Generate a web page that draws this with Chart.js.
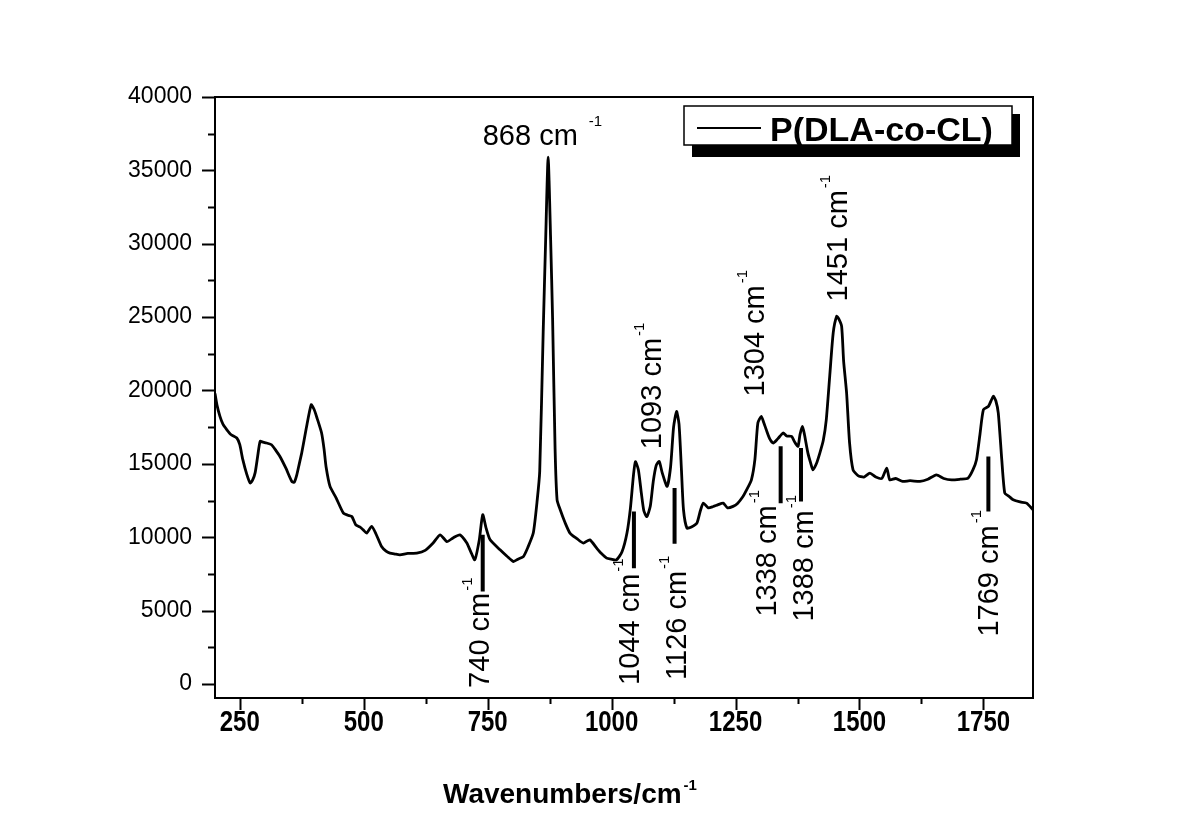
<!DOCTYPE html>
<html>
<head>
<meta charset="utf-8">
<script src="https://cdn.jsdelivr.net/npm/chart.js@4.4.0/dist/chart.umd.min.js"></script>
<style>
  html, body { margin: 0; padding: 0; background: #fff; }
  #wrap { width: 1200px; height: 838px; }
</style>
</head>
<body>
<div id="wrap"><canvas id="ramanChart" width="1200" height="838"></canvas></div>
<script>
// Raman spectrum of P(DLA-co-CL)
const wavenumbers = [
  200, 204, 210, 216, 224, 232, 244, 250, 256, 264, 271, 276, 281, 286, 291, 297, 304, 314, 323, 331,
  343, 355, 360, 365, 370, 375, 384, 394, 400, 406, 415, 420, 424, 432, 444, 459, 468, 476, 484, 492,
  499, 506, 516, 525, 536, 545, 553, 563, 573, 589, 607, 624, 640, 654, 668, 680, 694, 708, 716, 724,
  733, 740, 747, 755, 775, 789, 802, 811, 822, 831, 842, 850, 855, 862, 867, 872, 877, 881, 886, 890,
  896, 906, 916, 930, 943, 956, 970, 979, 990, 999, 1010, 1021, 1031, 1038, 1044, 1048, 1054, 1060, 1065, 1071,
  1078, 1084, 1090, 1096, 1102, 1112, 1119, 1125, 1131, 1136, 1141, 1145, 1152, 1161, 1172, 1179, 1185, 1195, 1205, 1214,
  1225, 1234, 1245, 1254, 1265, 1272, 1282, 1289, 1295, 1302, 1307, 1312, 1319, 1326, 1335, 1346, 1353, 1363, 1369, 1376,
  1380, 1385, 1389, 1396, 1402, 1406, 1413, 1420, 1427, 1433, 1440, 1447, 1454, 1458, 1464, 1468, 1474, 1480, 1487, 1497,
  1509, 1521, 1533, 1545, 1555, 1561, 1573, 1587, 1602, 1622, 1638, 1655, 1670, 1686, 1703, 1719, 1729, 1736, 1743, 1750,
  1760, 1770, 1775, 1780, 1787, 1793, 1801, 1810, 1824, 1837, 1850
];
const intensities = [
  19800, 19000, 18230, 17700, 17320, 17000, 16760, 16300, 15300, 14300, 13690, 13900, 14400, 15500, 16530, 16480, 16420, 16300, 15900, 15500,
  14700, 13800, 13750, 14250, 15000, 15750, 17400, 19030, 18700, 18100, 17100, 16000, 14800, 13460, 12700, 11640, 11500, 11410, 10840, 10700,
  10500, 10280, 10730, 10200, 9360, 9050, 8910, 8850, 8800, 8900, 8910, 9100, 9600, 10160, 9700, 9950, 10160, 9600, 9000, 8460,
  9800, 11530, 10600, 9820, 9140, 8700, 8340, 8500, 8680, 9300, 10280, 12550, 14500, 24000, 30300, 35900, 30300, 24830, 16000, 12550,
  11900, 11000, 10280, 9900, 9600, 9820, 9250, 8900, 8570, 8500, 8460, 9000, 10280, 12000, 14200, 15150, 14600, 13000, 11800, 11400,
  12100, 13800, 14900, 15160, 14400, 13460, 14800, 17500, 18570, 17700, 14500, 11870, 10620, 10700, 10960, 11800, 12320, 12000, 12090, 12200,
  12320, 12000, 12100, 12300, 12770, 13200, 13910, 15280, 17780, 18230, 17800, 17320, 16700, 16420, 16700, 17100, 16900, 16870, 16500, 16190,
  17000, 17550, 17000, 15730, 15000, 14590, 15000, 15730, 16600, 18000, 21000, 23920, 25050, 24900, 24370, 22000, 19830, 16420, 14590, 14200,
  14100, 14370, 14100, 14000, 14710, 13910, 14000, 13800, 13850, 13800, 13950, 14250, 14000, 13900, 13950, 14030, 14600, 15280, 17000, 18690,
  18910, 19600, 19300, 18460, 15280, 13010, 12800, 12550, 12400, 12320, 11870
];

const xTickValues = [250, 500, 750, 1000, 1250, 1500, 1750];
const yTickValues = [0, 5000, 10000, 15000, 20000, 25000, 30000, 35000, 40000];

// vertical marker bars under the assigned bands
const markerWavenumbers = [740, 1045, 1127, 1341, 1382, 1760];
const markerTops = [10160, 11750, 13350, 16190, 16080, 15500];
const markerBottoms = [6300, 7890, 9550, 12320, 12430, 11750];

// band labels (rotated ones read bottom to top)
const bandLabels = ['740 cm', '1044 cm', '1126 cm', '1338 cm', '1388 cm', '1769 cm', '1093 cm', '1304 cm', '1451 cm'];
const labelAnchors = [
  { x: 736, y: -270 }, { x: 1040, y: -70 }, { x: 1134, y: 270 },
  { x: 1315, y: 4590 }, { x: 1390, y: 4250 }, { x: 1763, y: 3230 },
  { x: 1083, y: 16000 }, { x: 1291, y: 19590 }, { x: 1458, y: 26070 }
];
const topLabel = '868 cm';
const topAnchor = { x: 740, y: 36760 };

const seriesName = 'P(DLA-co-CL)';
const axisTitle = 'Wavenumbers/cm';

const LABEL_FONT = '29px "Liberation Sans", Arial, sans-serif';
const SUP_FONT = '15px "Liberation Sans", Arial, sans-serif';

function drawRotatedLabel(ctx, text, px, py) {
  ctx.save();
  ctx.translate(px, py);
  ctx.rotate(-Math.PI / 2);
  ctx.font = LABEL_FONT;
  ctx.textAlign = 'left';
  ctx.textBaseline = 'middle';
  ctx.fillText(text, 0, 0);
  const w = ctx.measureText(text).width;
  ctx.font = SUP_FONT;
  ctx.fillText('-1', w + 2, -13);
  ctx.restore();
}

const spectrumDecor = {
  id: 'spectrumDecor',
  afterDatasetsDraw(chart) {
    const { ctx, chartArea: a, scales: { x, y } } = chart;
    ctx.save();
    ctx.fillStyle = '#000';
    ctx.strokeStyle = '#000';

    // frame
    ctx.lineWidth = 2;
    ctx.strokeRect(a.left, a.top, a.right - a.left, a.bottom - a.top);

    // x ticks, major + minor, outward
    ctx.beginPath();
    xTickValues.forEach(v => {
      const px = Math.round(x.getPixelForValue(v)) + 0.5;
      ctx.moveTo(px, a.bottom); ctx.lineTo(px, a.bottom + 12);
      [v - 125, v + 125].forEach(m => {
        if (m > x.min && m < x.max) {
          const mp = Math.round(x.getPixelForValue(m)) + 0.5;
          ctx.moveTo(mp, a.bottom); ctx.lineTo(mp, a.bottom + 6);
        }
      });
    });
    // y ticks
    yTickValues.forEach(v => {
      const py = Math.round(y.getPixelForValue(v)) + 0.5;
      ctx.moveTo(a.left, py); ctx.lineTo(a.left - 13, py);
      const m = v + 2500;
      if (m < y.max) {
        const mp = Math.round(y.getPixelForValue(m)) + 0.5;
        ctx.moveTo(a.left, mp); ctx.lineTo(a.left - 7, mp);
      }
    });
    ctx.stroke();

    // x tick labels: bold, horizontally condensed like the original
    ctx.font = 'bold 30px "Liberation Sans", Arial, sans-serif';
    ctx.textAlign = 'center';
    ctx.textBaseline = 'middle';
    xTickValues.forEach(v => {
      ctx.save();
      ctx.translate(x.getPixelForValue(v), a.bottom + 25);
      ctx.scale(0.8, 1);
      ctx.fillText(String(v), 0, 0);
      ctx.restore();
    });

    // marker bars
    ctx.lineWidth = 4;
    ctx.beginPath();
    markerWavenumbers.forEach((w, i) => {
      const px = x.getPixelForValue(w);
      ctx.moveTo(px, y.getPixelForValue(markerTops[i]));
      ctx.lineTo(px, y.getPixelForValue(markerBottoms[i]));
    });
    ctx.stroke();

    // rotated band labels
    bandLabels.forEach((t, i) => {
      drawRotatedLabel(ctx, t, x.getPixelForValue(labelAnchors[i].x), y.getPixelForValue(labelAnchors[i].y));
    });

    // horizontal label over the 868 band
    ctx.font = LABEL_FONT;
    ctx.textAlign = 'left';
    ctx.textBaseline = 'alphabetic';
    const tx = x.getPixelForValue(topAnchor.x), ty = y.getPixelForValue(topAnchor.y);
    ctx.fillText(topLabel, tx, ty);
    const tw = ctx.measureText(topLabel + ' ').width;
    ctx.font = SUP_FONT;
    ctx.fillText('-1', tx + tw + 3, ty - 19);

    // legend box with drop shadow
    const lx = a.right - 349, ly = a.top + 9, lw = 328, lh = 39;
    ctx.fillRect(lx + 8, ly + 8, lw, lh + 4);
    ctx.fillStyle = '#fff';
    ctx.fillRect(lx, ly, lw, lh);
    ctx.lineWidth = 1.5;
    ctx.strokeRect(lx, ly, lw, lh);
    ctx.fillStyle = '#000';
    ctx.lineWidth = 2;
    ctx.beginPath();
    ctx.moveTo(lx + 13, ly + 22); ctx.lineTo(lx + 77, ly + 22);
    ctx.stroke();
    ctx.font = 'bold 34px "Liberation Sans", Arial, sans-serif';
    ctx.fillText(seriesName, lx + 86, ly + 35);

    // x axis title
    ctx.font = 'bold 28px "Liberation Sans", Arial, sans-serif';
    ctx.fillText(axisTitle, 443, 803);
    const aw = ctx.measureText(axisTitle).width;
    ctx.font = 'bold 15px "Liberation Sans", Arial, sans-serif';
    ctx.fillText('-1', 443 + aw + 2, 790);

    ctx.restore();
  }
};

new Chart(document.getElementById('ramanChart'), {
  type: 'line',
  data: {
    labels: wavenumbers,
    datasets: [{
      label: seriesName,
      data: wavenumbers.map((w, i) => ({ x: w, y: intensities[i] })),
      borderColor: '#000',
      borderWidth: 2.8,
      pointRadius: 0,
      tension: 0.2,
      fill: false
    }]
  },
  options: {
    responsive: false,
    animation: false,
    devicePixelRatio: 1,
    layout: { padding: { left: 0, top: 97, right: 167, bottom: 0 } },
    plugins: { legend: { display: false }, tooltip: { enabled: false } },
    scales: {
      x: {
        type: 'linear',
        min: 200,
        max: 1850,
        afterBuildTicks: s => { s.ticks = xTickValues.map(v => ({ value: v })); },
        afterFit: s => { s.height = 140; },
        grid: { display: false, drawTicks: false },
        border: { display: false },
        ticks: { display: false }
      },
      y: {
        type: 'linear',
        min: -960,
        max: 40000,
        afterBuildTicks: s => { s.ticks = yTickValues.map(v => ({ value: v })); },
        afterFit: s => { s.width = 215; },
        grid: { display: false, drawTicks: false },
        border: { display: false },
        ticks: {
          color: '#000',
          padding: 23,
          autoSkip: false,
          font: { family: '"Liberation Sans", Arial, sans-serif', size: 23 },
          callback: v => String(v)
        }
      }
    }
  },
  plugins: [spectrumDecor]
});
</script>
</body>
</html>
